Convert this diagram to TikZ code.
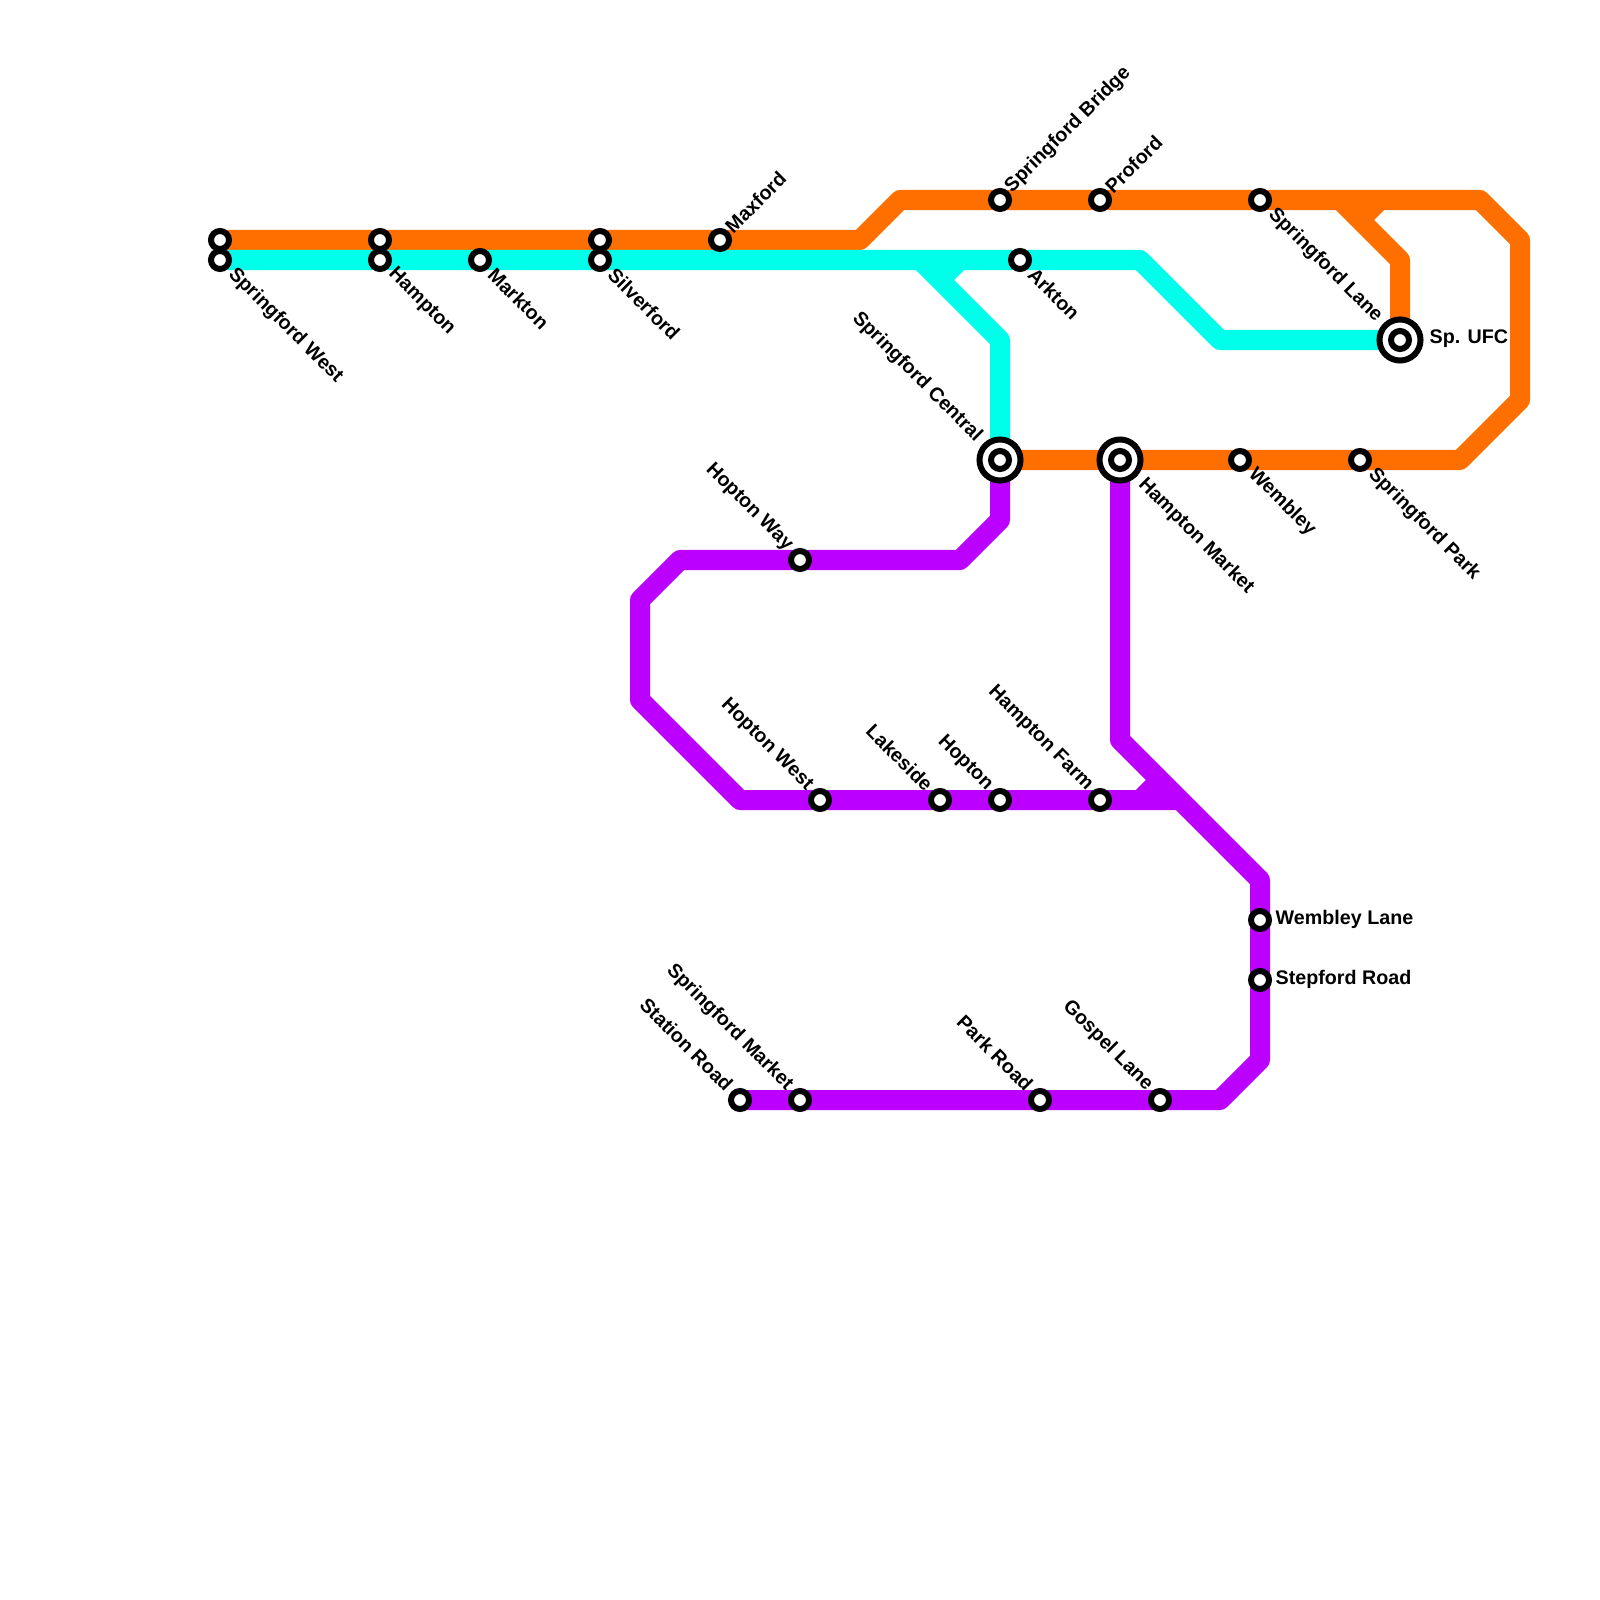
\documentclass[tikz,border=0pt]{standalone}
\usepackage{fontspec}
\setmainfont{Liberation Sans}
\usetikzlibrary{positioning,backgrounds}

\definecolor{orangeline}{HTML}{FF6F00}
\definecolor{cyanline}{HTML}{00FFEA}
\definecolor{purpleline}{HTML}{BB00FF}

\begin{document}
\begin{tikzpicture}[
  x=0.01cm, y=-0.01cm,
  route/.style={line width=0.2cm, line join=round},
  station/.style={circle, draw=black, fill=white, line width=0.06cm,
                  minimum size=0.18cm, inner sep=0pt},
  interchange/.style={circle, draw=black, fill=white, line width=0.06cm,
                      minimum size=0.41cm, inner sep=0pt},
  lbl/.style={font=\fontsize{5.6pt}{6.5pt}\selectfont\bfseries, inner sep=0pt, text=black},
  lbldown/.style={lbl, rotate=-45, anchor=west},
  lblup/.style={lbl, rotate=45, anchor=west},
  lblback/.style={lbl, rotate=-45, anchor=east},
  lblright/.style={lbl, anchor=west}
]
  \useasboundingbox (0,0) rectangle (1600,1600);

  % bends
  \coordinate (oA) at (860,240);
  \coordinate (oB) at (900,200);
  \coordinate (oC) at (1480,200);
  \coordinate (oD) at (1520,240);
  \coordinate (oE) at (1520,400);
  \coordinate (oF) at (1460,460);
  \coordinate (oG) at (1340,200);
  \coordinate (oH) at (1400,260);
  \coordinate (oI) at (1380,200);
  \coordinate (oJ) at (1360,220);

  \coordinate (cA) at (1140,260);
  \coordinate (cB) at (1220,340);
  \coordinate (cC) at (920,260);
  \coordinate (cD) at (1000,340);
  \coordinate (cE) at (960,260);
  \coordinate (cF) at (940,280);

  \coordinate (pA) at (1000,520);
  \coordinate (pB) at (960,560);
  \coordinate (pC) at (680,560);
  \coordinate (pD) at (640,600);
  \coordinate (pE) at (640,700);
  \coordinate (pF) at (740,800);
  \coordinate (pG) at (1180,800);
  \coordinate (pH) at (1120,740);
  \coordinate (pI) at (1260,880);
  \coordinate (pJ) at (1260,1060);
  \coordinate (pK) at (1220,1100);
  \coordinate (pL) at (1160,780);
  \coordinate (pM) at (1140,800);

  % stations
  \node[station] (westO) at (220,240) {};
  \node[station] (westC) at (220,260) {};
  \node[station] (hamptonO) at (380,240) {};
  \node[station] (hamptonC) at (380,260) {};
  \node[station] (markton) at (480,260) {};
  \node[station] (silverO) at (600,240) {};
  \node[station] (silverC) at (600,260) {};
  \node[station] (maxford) at (720,240) {};
  \node[station] (bridge) at (1000,200) {};
  \node[station] (proford) at (1100,200) {};
  \node[station] (lane) at (1260,200) {};
  \node[station] (arkton) at (1020,260) {};
  \node[interchange] (ufc) at (1400,340) {};
  \node[station] (ufcIn) at (ufc.center) {};
  \node[interchange] (central) at (1000,460) {};
  \node[station] (centralIn) at (central.center) {};
  \node[interchange] (market) at (1120,460) {};
  \node[station] (marketIn) at (market.center) {};
  \node[station] (wembley) at (1240,460) {};
  \node[station] (park) at (1360,460) {};
  \node[station] (way) at (800,560) {};
  \node[station] (hwest) at (820,800) {};
  \node[station] (lakeside) at (940,800) {};
  \node[station] (hopton) at (1000,800) {};
  \node[station] (farm) at (1100,800) {};
  \node[station] (wlane) at (1260,920) {};
  \node[station] (stepford) at (1260,980) {};
  \node[station] (gospel) at (1160,1100) {};
  \node[station] (parkroad) at (1040,1100) {};
  \node[station] (smarket) at (800,1100) {};
  \node[station] (sroad) at (740,1100) {};

  % routes
  \begin{scope}[on background layer]
    \draw[route, orangeline] (westO.center) -- (hamptonO.center) -- (silverO.center) -- (maxford.center)
      -- (oA) -- (oB) -- (bridge.center) -- (proford.center) -- (lane.center) -- (oC) -- (oD) -- (oE) -- (oF)
      -- (park.center) -- (wembley.center) -- (market.center) -- (central.center);
    \draw[route, orangeline] (oG) -- (oH) -- (ufc.center);
    \draw[route, orangeline] (oI) -- (oJ);

    \draw[route, cyanline] (westC.center) -- (hamptonC.center) -- (markton.center) -- (silverC.center)
      -- (arkton.center) -- (cA) -- (cB) -- (ufc.center);
    \draw[route, cyanline] (cC) -- (cD) -- (central.center);
    \draw[route, cyanline] (cE) -- (cF);

    \draw[route, purpleline] (central.center) -- (pA) -- (pB) -- (way.center) -- (pC) -- (pD) -- (pE) -- (pF)
      -- (hwest.center) -- (lakeside.center) -- (hopton.center) -- (farm.center) -- (pG);
    \draw[route, purpleline] (market.center) -- (pH) -- (pI) -- (wlane.center) -- (stepford.center) -- (pJ)
      -- (pK) -- (gospel.center) -- (parkroad.center) -- (smarket.center) -- (sroad.center);
    \draw[route, purpleline] (pL) -- (pM);
  \end{scope}

  % labels
  \node[lbldown] (westL) at ([shift={(11,11)}]westC.center) {Springford West};
  \node[lbldown] (hamptonL) at ([shift={(11,11)}]hamptonC.center) {Hampton};
  \node[lbldown] (marktonL) at ([shift={(11,11)}]markton.center) {Markton};
  \node[lbldown] (silverL) at ([shift={(11,11)}]silverC.center) {Silverford};
  \node[lblup] (maxfordL) at ([shift={(8,-10)}]maxford.center) {Maxford};
  \node[lblup] (bridgeL) at ([shift={(8,-10)}]bridge.center) {Springford Bridge};
  \node[lblup] (profordL) at ([shift={(8,-10)}]proford.center) {Proford};
  \node[lbldown] (laneL) at ([shift={(11,11)}]lane.center) {Springford Lane};
  \node[lbldown] (arktonL) at ([shift={(11,11)}]arkton.center) {Arkton};
  \node[lblright] (ufcL) at ([xshift=0.29cm,yshift=0.01cm]ufc.center) {Sp. UFC};
  \node[lblback] (centralL) at ([shift={(-21,-21)}]central.center) {Springford Central};
  \node[lbldown] (marketL) at ([shift={(21,21)}]market.center) {Hampton Market};
  \node[lbldown] (wembleyL) at ([shift={(11,11)}]wembley.center) {Wembley};
  \node[lbldown] (parkL) at ([shift={(11,11)}]park.center) {Springford Park};
  \node[lblback] (wayL) at ([shift={(-10,-12)}]way.center) {Hopton Way};
  \node[lblback] (hwestL) at ([shift={(-10,-12)}]hwest.center) {Hopton West};
  \node[lblback] (lakesideL) at ([shift={(-10,-12)}]lakeside.center) {Lakeside};
  \node[lblback] (hoptonL) at ([shift={(-10,-12)}]hopton.center) {Hopton};
  \node[lblback] (farmL) at ([shift={(-10,-12)}]farm.center) {Hampton Farm};
  \node[lblright] (wlaneL) at ([xshift=0.15cm,yshift=0.01cm]wlane.center) {Wembley Lane};
  \node[lblright] (stepfordL) at ([xshift=0.15cm,yshift=0.01cm]stepford.center) {Stepford Road};
  \node[lblback] (gospelL) at ([shift={(-10,-12)}]gospel.center) {Gospel Lane};
  \node[lblback] (parkroadL) at ([shift={(-10,-12)}]parkroad.center) {Park Road};
  \node[lblback] (smarketL) at ([shift={(-10,-12)}]smarket.center) {Springford Market};
  \node[lblback] (sroadL) at ([shift={(-10,-12)}]sroad.center) {Station Road};
\end{tikzpicture}
\end{document}
